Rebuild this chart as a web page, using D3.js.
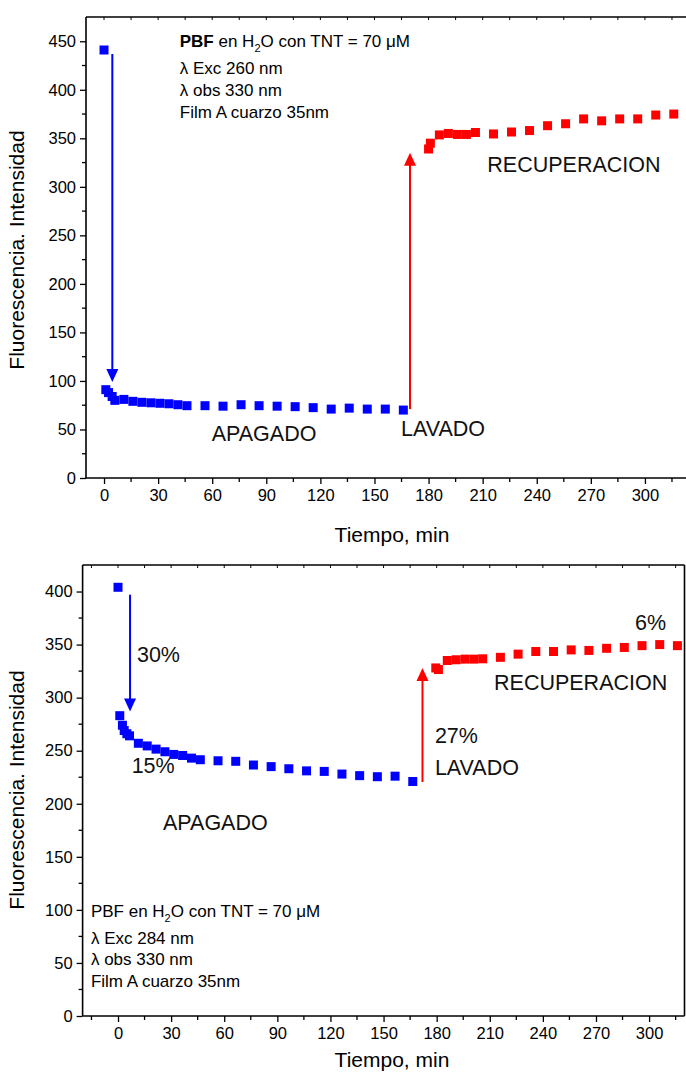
<!DOCTYPE html>
<html><head><meta charset="utf-8">
<script src="https://cdn.jsdelivr.net/npm/d3@7"></script>
<style>
body{margin:0;background:#fff;}
svg{display:block;font-family:"Liberation Sans",Arial,sans-serif;}
</style></head>
<body>
<svg id="c" width="686" height="1073"></svg>
<script>
// ---------- data: top panel (λ Exc 260 nm) ----------
const topBlueTime = [0, 1, 2.5, 4.5, 6, 11, 16, 21, 26, 31, 36, 41, 46, 56, 66, 76, 86, 96, 106, 116, 126, 136, 146, 156, 166];
const topBlueVal  = [441, 91, 88, 84, 80, 81, 79, 78, 77.5, 77, 76.5, 75.5, 74.5, 74.5, 74, 75.5, 74.5, 74, 73.5, 72.5, 71, 72, 71, 71, 70];
const topRedTime  = [180, 181, 186, 191, 196, 201, 206, 216, 226, 236, 246, 256, 266, 276, 286, 296, 306, 316];
const topRedVal   = [339, 345, 353.5, 355, 354, 354, 356, 354.5, 356.5, 358, 363, 365, 370, 368, 370, 370, 374, 375];
// ---------- data: bottom panel (λ Exc 284 nm) ----------
const botBlueTime = [0, 1, 2.5, 3.5, 5, 6.5, 11.5, 16.5, 21.5, 26.5, 31.5, 36.5, 41.5, 46.5, 56.5, 66.5, 76.5, 86.5, 96.5, 106.5, 116.5, 126.5, 136.5, 146.5, 156.5, 166.5];
const botBlueVal  = [404, 283, 274, 269, 266, 264, 257, 254.5, 251.5, 249, 246.5, 245.5, 243, 241.5, 240.5, 240, 236.5, 235, 233, 231, 230.5, 228, 226.5, 225.5, 226, 221];
const botRedTime  = [179.5, 181, 186, 191, 196, 201, 206, 216, 226, 236, 246, 256, 266, 276, 286, 296, 306, 316];
const botRedVal   = [328, 326.5, 335, 335.7, 336.3, 336.3, 336.6, 338, 341, 343.5, 343.5, 345, 344.5, 346.5, 347.3, 349, 350, 349];
// ---------- tick labels ----------
const xTickLabels = [0, 30, 60, 90, 120, 150, 180, 210, 240, 270, 300];
const topYTickLabels = [0, 50, 100, 150, 200, 250, 300, 350, 400, 450];
const botYTickLabels = [0, 50, 100, 150, 200, 250, 300, 350, 400];
// ---------- annotations (data units) ----------
const topArrows = [{x:4.6, y0:437, y1:99, c:"#0000ff"}, {x:169.7, y0:71, y1:335, c:"#ff0000"}];
const botArrows = [{x:6.8, y0:397, y1:287, c:"#0000ff"}, {x:172, y0:220.5, y1:328, c:"#ff0000"}];
const topLabels = [{t:"APAGADO", x:59.7, y:38}, {t:"LAVADO", x:164.7, y:43}, {t:"RECUPERACION", x:212.6, y:315}];
const botLabels = [{t:"30%", x:10.7, y:334}, {t:"15%", x:7.7, y:228.7}, {t:"APAGADO", x:25.4, y:175},
                   {t:"27%", x:179, y:257}, {t:"LAVADO", x:179, y:227}, {t:"RECUPERACION", x:212.4, y:306.8}, {t:"6%", x:292, y:364}];
const topInfo = {x:42, ys:[444, 416, 394, 371], exc:"260", bold:true};
const botInfo = {x:-15.3, ys:[93, 68, 48.5, 27.3], exc:"284", bold:false};

const svg = d3.select("#c");

function panel(o){
  const x = d3.scaleLinear().domain(o.xd).range(o.xr);
  const y = d3.scaleLinear().domain(o.yd).range(o.yr);
  const g = svg.append("g");
  const [L,R] = o.xr, [B,T] = o.yr;
  // axes
  const xMaj = d3.axisBottom(x).tickValues(xTickLabels).tickSize(6).tickPadding(5).tickFormat(d3.format("d"));
  const xMinor = d3.range(o.xd[0] <= -15 ? -15 : 15, o.xd[1], 30);
  const ax = g.append("g").attr("transform",`translate(0,${B})`).call(xMaj);
  ax.append("g").selectAll("line").data(xMinor).join("line")
    .attr("x1",d=>x(d)).attr("x2",d=>x(d)).attr("y1",0).attr("y2",4).attr("stroke","#000").attr("stroke-width",1.3);
  const yMaj = d3.axisLeft(y).tickValues(o.yt).tickSize(6).tickPadding(4).tickFormat(d3.format("d"));
  const ay = g.append("g").attr("transform",`translate(${L},0)`).call(yMaj);
  ay.append("g").selectAll("line").data(d3.range(25, o.yd[1], 50)).join("line")
    .attr("x1",0).attr("x2",-4).attr("y1",d=>y(d)).attr("y2",d=>y(d)).attr("stroke","#000").attr("stroke-width",1.3);
  [ax,ay].forEach(a=>{
    a.select(".domain").attr("stroke","#000").attr("stroke-width",1.6);
    a.selectAll(".tick line").attr("stroke","#000").attr("stroke-width",1.3);
    a.selectAll(".tick text").attr("font-size",16.5).attr("fill","#000").attr("font-family","Liberation Sans, Arial, sans-serif");
  });
  ax.select(".domain").attr("d",`M${L},0H${R}`);
  ay.select(".domain").attr("d",`M0,${B}V${T}`);
  // top border with small ticks
  g.append("line").attr("x1",L).attr("x2",R).attr("y1",T).attr("y2",T).attr("stroke","#000").attr("stroke-width",1.6);
  g.append("g").selectAll("line").data(d3.range(o.xd[0] <= -15 ? -15 : 0, o.xd[1], 15)).join("line")
    .attr("x1",d=>x(d)).attr("x2",d=>x(d)).attr("y1",T).attr("y2",T+3).attr("stroke","#000").attr("stroke-width",1);
  if(o.right){
    g.append("line").attr("x1",R).attr("x2",R).attr("y1",T).attr("y2",B).attr("stroke","#000").attr("stroke-width",1.6);
  }
  // titles
  g.append("text").attr("x",o.xtitle[0]).attr("y",o.xtitle[1]).attr("text-anchor","middle")
    .attr("font-size",21).text("Tiempo, min");
  g.append("text").attr("transform",`translate(${o.ytitle[0]},${o.ytitle[1]}) rotate(-90)`).attr("text-anchor","middle")
    .attr("font-size",21).text("Fluorescencia. Intensidad");
  // arrows
  o.arrows.forEach(a=>{
    const xp = x(a.x), y0 = y(a.y0), y1 = y(a.y1), dir = y1 > y0 ? 1 : -1;
    g.append("line").attr("x1",xp).attr("x2",xp).attr("y1",y0).attr("y2",y1 - dir*10)
      .attr("stroke",a.c).attr("stroke-width",2);
    g.append("path").attr("d",`M${xp},${y1}L${xp-6},${y1-dir*13}L${xp+6},${y1-dir*13}Z`).attr("fill",a.c);
  });
  // markers
  const sq = 9;
  const series = [[o.bt,o.bv,"#0000ff"],[o.rt,o.rv,"#ff0000"]];
  series.forEach(([ts,vs,c])=>{
    g.append("g").selectAll("rect").data(ts.map((t,i)=>[t,vs[i]])).join("rect")
      .attr("x",d=>x(d[0])-sq/2).attr("y",d=>y(d[1])-sq/2).attr("width",sq).attr("height",sq).attr("fill",c);
  });
  // labels
  g.append("g").selectAll("text").data(o.labels).join("text")
    .attr("x",d=>x(d.x)).attr("y",d=>y(d.y)).attr("font-size",21.5).attr("fill","#111").text(d=>d.t);
  // info block
  const inf = o.info, fs = 17;
  const t1 = g.append("text").attr("x",x(inf.x)).attr("y",y(inf.ys[0])).attr("font-size",fs);
  if(inf.bold){ t1.append("tspan").attr("font-weight","bold").text("PBF"); t1.append("tspan").text(" en H"); }
  else t1.append("tspan").text("PBF en H");
  t1.append("tspan").attr("font-size",11).attr("dy",5).text("2");
  t1.append("tspan").attr("dy",-5).text("O con TNT = 70 \u03bcM");
  const lines = ["\u03bb Exc " + inf.exc + " nm", "\u03bb obs 330 nm", "Film A cuarzo 35nm"];
  lines.forEach((s,i)=>g.append("text").attr("x",x(inf.x)).attr("y",y(inf.ys[i+1])).attr("font-size",fs).text(s));
}

panel({xd:[-10,325], xr:[86,690], yd:[0,475], yr:[478,17], yt:topYTickLabels,
  bt:topBlueTime, bv:topBlueVal, rt:topRedTime, rv:topRedVal, arrows:topArrows, labels:topLabels, info:topInfo,
  xtitle:[392,542], ytitle:[24,250], right:false});
panel({xd:[-20,320], xr:[82.6,684.5], yd:[0,425], yr:[1016,565], yt:botYTickLabels,
  bt:botBlueTime, bv:botBlueVal, rt:botRedTime, rv:botRedVal, arrows:botArrows, labels:botLabels, info:botInfo,
  xtitle:[392,1067], ytitle:[24,790], right:true});
</script>
</body></html>
